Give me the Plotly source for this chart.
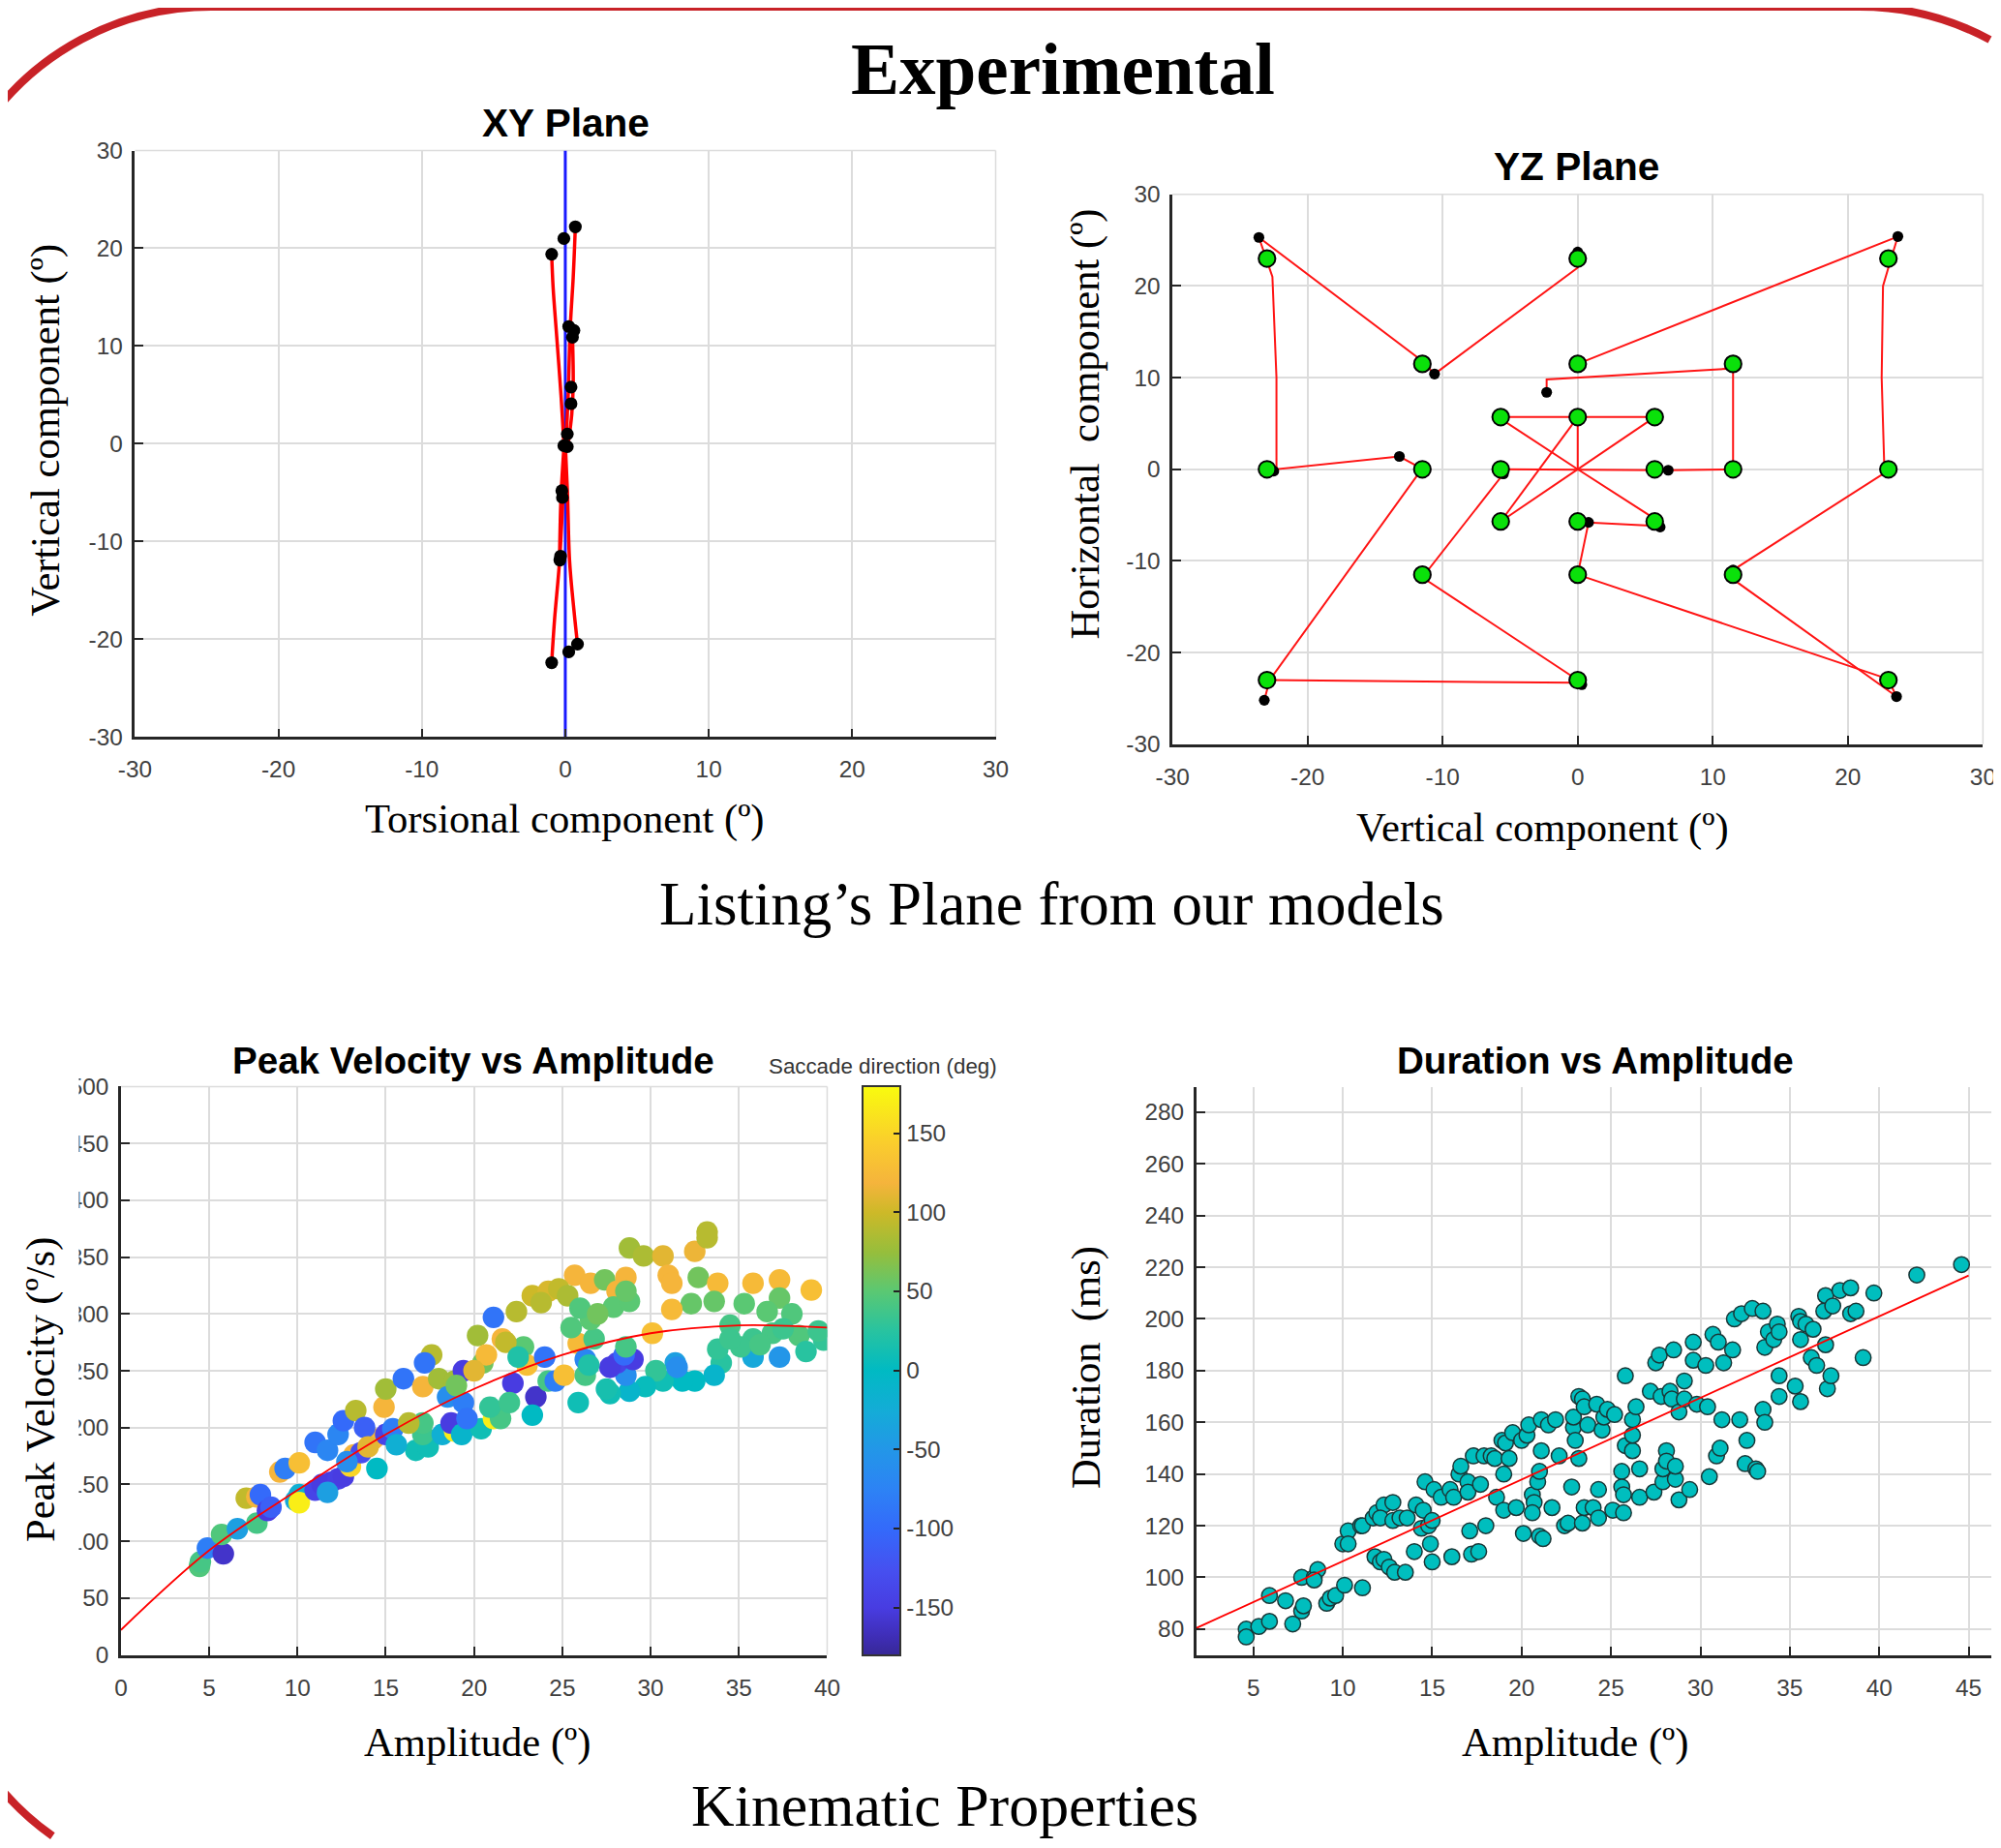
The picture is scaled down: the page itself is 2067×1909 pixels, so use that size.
import math
import plotly.graph_objects as go

W, H = 2067, 1909
# The photographed page shows the figure slightly scaled and offset; positions below are given in
# final picture pixels and converted back to figure pixels.
S, OX, OY = 0.9855, 24.5, 23.0
def fx(t): return (t - OX) / S
def fy(t): return (t - OY) / S
def PX(t): return fx(t) / W
def PY(t): return 1 - fy(t) / H
def FS(s): return s / S

# ---------------- DATA ----------------
xy_ticks = [-30, -20, -10, 0, 10, 20, 30]

# XY plane: black data points (torsional, vertical)
xy_pts_x = [-0.95, -0.1, 0.7, 0.24, 0.6, 0.5, 0.4, 0.4, 0.14, -0.1, 0.14, -0.24, -0.2, -0.33, -0.38, -0.95, 0.24, 0.85]
xy_pts_y = [19.4, 21.0, 22.2, 12.0, 11.6, 10.9, 5.8, 4.1, 1.0, -0.2, -0.3, -4.8, -5.5, -11.5, -11.9, -22.4, -21.3, -20.5]
# XY plane: red model trajectories (segments separated by None)
xy_red_x = [-0.95, -0.85, -0.6, -0.3, -0.1, None,
            0.7, 0.55, 0.35, 0.2, 0.05, None,
            0.5, 0.55, 0.45, 0.2, None,
            -0.95, -0.75, -0.4, -0.15, 0.0, None,
            0.85, 0.6, 0.3, 0.15, 0.0, None,
            -0.1, -0.3, -0.4]
xy_red_y = [19.4, 16, 11, 5, 0, None,
            22.2, 17, 12, 5, 0, None,
            11, 6, 3, 0, None,
            -22.4, -18, -12, -5, 0, None,
            -20.5, -17, -12, -5, 0, None,
            -0.5, -5.5, -11.8]
xy_line_x = [0, 0]
xy_line_y = [-30, 30]

# YZ plane: targets (green)
yz_green_x = [-23, 0, 23, -11.5, 0, 11.5, -5.7, 0, 5.7, -23, -11.5, -5.7, 5.7, 11.5, 23,
              -5.7, 0, 5.7, -11.5, 0, 11.5, -23, 0, 23]
yz_green_y = [23, 23, 23, 11.5, 11.5, 11.5, 5.7, 5.7, 5.7, 0, 0, 0, 0, 0, 0,
              -5.7, -5.7, -5.7, -11.5, -11.5, -11.5, -23, -23, -23]
# YZ plane: end points (black)
yz_black_x = [-23.6, 0, 23.7, -10.6, -2.3, -13.2, -22.5, 6.7, -5.5, 0.8, 6.1, -23.2, 0.3, 23.6, -11.6, 11.5, 22.8]
yz_black_y = [25.3, 23.7, 25.4, 10.4, 8.4, 1.4, -0.2, -0.1, -0.5, -5.8, -6.3, -25.2, -23.5, -24.8, -11.2, -11.0, -0.2]
# YZ plane: red trajectories
yz_red_x = [-23.6, -23.2, -22.6, -22.3, -22.3, -13.2, -11.7, None,
            -23.6, -11.5, -10.6, 0, 0, None,
            -11.7, -22.8, -23.2, None,
            -22.8, 0, 0.3, None,
            0, -11.5, -5.5, -5.7, None,
            -5.7, 6.7, 11.5, 11.5, -2.3, -2.3, None,
            0, 23.7, 23.2, 22.6, 22.5, 22.7, 22.6, 11.5, 11.5, 23.6, 23.0, None,
            0, 22.8, None,
            0, 0.8, 6.1, 5.7, None,
            -5.7, 0, 5.7, None,
            5.7, 0, -5.7, None,
            0, -5.7, None,
            0, 0, None,
            -5.7, 5.7]
yz_red_y = [25.3, 23.5, 21, 10, 0, 1.4, 0.2, None,
            25.3, 11.8, 10.4, 22, 23.7, None,
            -0.3, -23, -25.2, None,
            -23, -23.3, -23.5, None,
            -23, -11.8, -0.5, 0, None,
            0, -0.1, 0, 11, 9.8, 8.4, None,
            11.5, 25.4, 23, 20, 10, 0, -0.5, -11, -12, -24.8, -23, None,
            -11.5, -22.8, None,
            -11.5, -5.8, -6.2, -5.7, None,
            5.5, 0, -5.4, None,
            5.7, 0, -5.7, None,
            5.7, -5.7, None,
            5.7, 0, None,
            5.7, 5.7]

# Peak velocity vs amplitude
pv_xticks = [0, 5, 10, 15, 20, 25, 30, 35, 40]
pv_yticks = [0, 50, 100, 150, 200, 250, 300, 350, 400, 450, 500]
cb_ticks = [-150, -100, -50, 0, 50, 100, 150]
pv_amp = [4.45, 4.5, 4.9, 5.8, 5.7, 6.6, 7.7, 7.1, 7.7, 7.9, 8.3, 8.5, 9.0, 9.3, 10.1, 9.9, 10.1, 10.1,
          11.0, 11.4, 11.9, 12.3, 12.6, 11.7, 11.0, 11.7, 12.3, 12.6, 13.3, 13.0, 13.2, 13.6, 14.5, 14.3,
          14.9, 15.0, 15.0, 15.4, 16.0, 17.1, 17.6, 17.2, 18.0, 18.9, 18.5, 19.4, 19.4, 20.2, 20.5, 21.1,
          21.6, 20.7, 22.2, 22.8, 23.0, 23.5, 24.2, 24.6, 25.1, 25.9, 26.3, 26.3, 25.9, 22.4, 23.3, 24.2,
          25.7, 26.6, 27.4, 28.1, 28.6, 28.8, 29.6, 30.7, 31.0, 31.2, 32.5, 33.2, 33.2, 32.7, 33.8, 35.8,
          37.3, 39.1, 37.3, 33.6, 32.3, 31.2, 30.1, 35.3, 36.6, 34.5, 35.8, 36.9, 38.4, 39.8, 38.8, 37.3,
          35.8, 34.0, 33.8, 35.1, 33.6, 32.5, 31.8, 31.4, 30.7, 30.3, 29.7, 28.8, 28.6, 27.7, 27.5, 28.1,
          29.0, 27.7, 28.5, 28.6, 26.8, 25.5, 26.6, 27.9, 28.8, 28.6,
          16.7, 17.4, 17.1, 17.1, 18.2, 18.9, 18.7, 19.3, 20.4, 21.1, 21.5, 19.6, 20.9, 22.0, 23.3, 15.6, 16.3,
          23.8, 24.8, 25.3, 26.0, 27.0, 21.8, 22.5, 20.0, 19.0, 13.8, 14.0, 12.8, 24.0, 26.5, 31.5, 34.5,
          36.2, 38.0, 37.5, 39.5]
pv_vel = [78, 82, 94, 89, 106, 111, 116, 138, 139, 141, 127, 130, 161, 164, 169, 136, 141, 134,
          145, 150, 152, 155, 157, 143, 187, 180, 194, 206, 215, 166, 176, 178, 164, 190,
          218, 234, 194, 199, 243, 236, 264, 257, 243, 241, 227, 222, 250, 281, 257, 297,
          278, 264, 239, 271, 255, 227, 241, 241, 246, 274, 246, 260, 222, 302, 316, 320,
          334, 327, 330, 320, 332, 358, 351, 351, 334, 327, 355, 372, 367, 332, 327, 327,
          330, 321, 314, 311, 309, 304, 283, 309, 302, 290, 278, 283, 281, 277, 267, 262,
          262, 257, 269, 271, 246, 241, 241, 257, 241, 250, 236, 232, 246, 230, 234, 257,
          260, 253, 264, 271, 278, 288, 295, 306, 311, 320,
          180, 183, 194, 204, 194, 197, 204, 194, 199, 208, 208, 208, 218, 222, 211, 185, 204,
          310, 322, 316, 305, 300, 275, 262, 250, 237, 200, 183, 170, 262, 255, 253, 278,
          273, 300, 287, 285]
pv_dir = [45, 40, -80, -160, 45, -40, 40, 95, 120, -100, -150, -110, 120, -80, 130, -30, -20, 170,
          -140, -150, -150, -145, -150, -40, -90, -70, -70, -100, 90, 150, 120, -130, 0, 120,
          120, 80, -140, -80, -90, 120, 90, -90, 80, 80, -60, -80, -150, 80, 60, -90,
          120, 125, -150, 50, 130, -160, 40, -80, 130, 125, 40, -70, 10, 90, 100, 105,
          120, 120, 60, 120, 120, 80, 85, 110, 120, 120, 115, 90, 90, 60, 125, 125,
          125, 130, 55, 55, 55, 125, 130, 50, 50, 40, 35, 40, 45, 30, 25, -50,
          -30, 25, 30, 35, -10, 0, 0, -40, 10, 30, 5, -10, -60, 10, 15, -140,
          -150, -150, -100, 40, 40, 45, 50, 50, 50, 55,
          10, 10, 35, 40, -20, 170, -150, -10, 10, 170, 40, -90, 30, 35, 0, -20, 90,
          90, 95, 85, 45, 60, 95, 20, 110, 60, -110, 110, -60, -90, 20, -60, 35,
          40, 45, 35, 35]
pv_fit_x = [0, 5, 10, 15, 20, 25, 30, 35, 40]
pv_fit_y = [22, 92, 145, 194, 234, 264, 283, 290, 288]

# Duration vs amplitude
dur_xticks = [5, 10, 15, 20, 25, 30, 35, 40, 45]
dur_yticks = [80, 100, 120, 140, 160, 180, 200, 220, 240, 260, 280]
dur_amp = [4.6, 4.6, 5.3, 5.9, 5.9, 6.8, 7.2, 7.7, 7.8, 7.7, 8.4, 8.6, 8.4, 9.1, 9.3, 9.6, 10.1, 11.1,
           10.0, 10.3, 10.3, 11.0, 11.1, 11.7, 11.9, 12.3, 12.8, 12.1, 12.8, 13.2, 13.6, 11.8, 12.1, 12.3,
           12.6, 12.9, 13.5, 14.0, 14.1, 14.5, 14.4, 14.8, 15.0, 14.6, 14.9, 15.0, 15.1, 15.5, 16.0, 16.2,
           16.1, 16.5, 16.6, 17.0, 17.0, 17.1, 17.3, 17.2, 17.6, 17.7, 18.0, 17.9, 18.3, 18.5, 18.6, 18.9,
           19.1, 19.0, 19.0, 19.3, 19.5, 19.7, 20.0, 20.3, 20.1, 20.4, 20.6, 20.7, 20.6, 20.9, 21.0, 21.1,
           21.1, 21.0, 21.2, 21.5, 21.7, 21.9, 22.1, 22.4, 22.6, 22.8, 22.9, 22.9, 23.0, 23.2, 23.4, 23.2,
           23.4, 23.5, 23.5, 23.7, 24.0, 24.2, 24.3, 24.3, 24.5, 24.6, 24.8, 25.2, 25.1, 25.7, 25.6, 25.6,
           25.7, 25.8, 25.8, 26.2, 26.2, 26.2, 26.4, 26.6, 26.6, 27.2, 27.4, 27.5, 27.7, 27.8, 27.9, 27.9,
           28.1, 28.1, 28.3, 28.4, 28.5, 28.6, 28.6, 28.8, 28.8, 29.1, 29.1, 29.4, 29.6, 29.6, 29.8, 30.3,
           30.4, 30.5, 30.7, 30.9, 31.0, 31.1, 31.2, 31.3, 31.8, 31.9, 32.2, 32.3, 32.5, 32.6, 32.9, 33.1,
           33.2, 33.5, 33.5, 33.6, 33.6, 33.8, 34.1, 34.3, 34.4, 34.4, 34.4, 35.3, 35.5, 35.6, 35.6, 35.6,
           35.9, 36.2, 36.3, 36.5, 36.9, 37.0, 37.0, 37.1, 37.3, 37.4, 37.8, 38.4, 38.4, 38.7, 39.1, 39.7,
           42.1, 44.6]
dur_ms = [80, 77, 81, 93, 83, 91, 82, 87, 89, 100, 100, 103, 99, 90, 92, 93, 97, 96,
          113, 118, 113, 120, 120, 123, 125, 128, 129, 123, 122, 123, 123, 108, 106, 107,
          104, 102, 102, 110, 128, 126, 119, 120, 122, 137, 113, 106, 134, 131, 134, 131,
          108, 140, 143, 137, 133, 118, 147, 109, 110, 136, 120, 147, 147, 146, 131, 153,
          152, 140, 126, 146, 156, 127, 153, 155, 117, 159, 132, 129, 125, 137, 141, 149,
          161, 116, 115, 159, 127, 161, 147, 120, 121, 135, 158, 162, 153, 146, 121, 170,
          169, 127, 166, 159, 127, 167, 134, 123, 157, 162, 165, 163, 126, 125, 141, 135,
          132, 151, 178, 161, 149, 155, 166, 142, 131, 172, 133, 183, 186, 170, 137, 142,
          149, 145, 172, 169, 188, 138, 143, 130, 164, 176, 169, 134, 191, 184, 167, 182,
          166, 139, 194, 147, 191, 150, 161, 183, 188, 200, 161, 202, 144, 153, 204, 142,
          141, 203, 165, 189, 160, 195, 192, 198, 195, 178, 170, 174, 201, 199, 192, 168,
          198, 185, 196, 182, 203, 209, 190, 173, 178, 205, 211, 212, 202, 203, 185, 210,
          217, 221]
dur_fit_x = [1.8, 45]
dur_fit_y = [80.4, 216.8]

# ---------------- FIGURE ----------------
parula = [[0.0, 'rgb(55,40,150)'], [0.03, 'rgb(62,45,180)'], [0.083, 'rgb(72,60,225)'],
          [0.15, 'rgb(70,80,240)'], [0.22, 'rgb(52,105,250)'], [0.29, 'rgb(45,130,245)'],
          [0.36, 'rgb(35,150,232)'], [0.43, 'rgb(20,172,215)'], [0.5, 'rgb(0,186,195)'],
          [0.57, 'rgb(40,195,160)'], [0.639, 'rgb(90,200,115)'], [0.708, 'rgb(150,190,60)'],
          [0.778, 'rgb(205,185,40)'], [0.83, 'rgb(245,180,60)'], [0.9, 'rgb(250,205,45)'],
          [1.0, 'rgb(249,251,14)']]

fig = go.Figure()

# XY plane
fig.add_trace(go.Scatter(x=xy_line_x, y=xy_line_y, mode='lines', line=dict(color='rgb(25,25,255)', width=3),
                         xaxis='x', yaxis='y', hoverinfo='skip'))
fig.add_trace(go.Scatter(x=xy_red_x, y=xy_red_y, mode='lines', line=dict(color='rgb(255,0,0)', width=3.5, shape='spline'),
                         connectgaps=False, xaxis='x', yaxis='y'))
fig.add_trace(go.Scatter(x=xy_pts_x, y=xy_pts_y, mode='markers', marker=dict(color='black', size=FS(13)),
                         xaxis='x', yaxis='y'))

# YZ plane
fig.add_trace(go.Scatter(x=yz_red_x, y=yz_red_y, mode='lines', line=dict(color='rgb(255,20,20)', width=2),
                         connectgaps=False, xaxis='x2', yaxis='y2'))
fig.add_trace(go.Scatter(x=yz_black_x, y=yz_black_y, mode='markers', marker=dict(color='black', size=FS(11)),
                         xaxis='x2', yaxis='y2'))
fig.add_trace(go.Scatter(x=yz_green_x, y=yz_green_y, mode='markers',
                         marker=dict(color='rgb(10,225,10)', size=FS(17), line=dict(color='black', width=2)),
                         xaxis='x2', yaxis='y2'))

# Peak velocity
fig.add_trace(go.Scatter(x=pv_amp, y=pv_vel, mode='markers', xaxis='x3', yaxis='y3',
                         marker=dict(size=FS(22), color=pv_dir, colorscale=parula, cmin=-180, cmax=180,
                                     showscale=True,
                                     colorbar=dict(x=PX(890.6), xanchor='left', thickness=FS(38), thicknessmode='pixels',
                                                   len=(fy(1711) - fy(1123)) / H, lenmode='fraction', y=PY(1417), yanchor='middle',
                                                   xpad=0, ypad=0, outlinewidth=2, outlinecolor='#333333',
                                                   ticks='inside', ticklen=8, tickwidth=2, tickcolor='#222222',
                                                   tickvals=cb_ticks, ticktext=[str(v) for v in cb_ticks],
                                                   tickfont=dict(family='Liberation Sans, Arial', size=FS(24), color='#404040')))))
fig.add_trace(go.Scatter(x=pv_fit_x, y=pv_fit_y, mode='lines', line=dict(color='rgb(255,0,0)', width=1.8, shape='spline'),
                         xaxis='x3', yaxis='y3'))

# Duration
fig.add_trace(go.Scatter(x=dur_amp, y=dur_ms, mode='markers', xaxis='x4', yaxis='y4',
                         marker=dict(size=FS(16), color='rgb(0,190,190)', line=dict(color='rgb(25,55,55)', width=1.5))))
fig.add_trace(go.Scatter(x=dur_fit_x, y=dur_fit_y, mode='lines', line=dict(color='rgb(255,0,0)', width=1.8),
                         xaxis='x4', yaxis='y4'))

tickfont = dict(family='Liberation Sans, Arial, sans-serif', size=FS(24), color='#404040')

def axis(domain, rng, tickvals, anchor, standoff):
    return dict(domain=domain, range=rng, tickvals=tickvals, ticktext=[str(v) for v in tickvals],
                anchor=anchor, showline=True, linecolor='#262626', linewidth=2.5,
                ticks='inside', ticklen=9, tickwidth=2, tickcolor='#262626',
                showgrid=True, gridcolor='#dcdcdc', gridwidth=1.5, zeroline=False,
                tickfont=tickfont, ticklabelstandoff=standoff, fixedrange=True)

XY_X = [PX(138), PX(1028)]
XY_Y = [PY(763), PY(157.5)]
YZ_X = [PX(1210.8), PX(2048.9)]
YZ_Y = [PY(770.5), PY(202.7)]
PV_X = [PX(123.5), PX(853.8)]
PV_Y = [PY(1711), PY(1124)]
DU_X = [PX(1235.5), PX(2058)]
DU_Y = [PY(1711), PY(1125)]
du_xmax = 1.81 + (2058 - 1235.5) / 18.49

layout = dict(
    width=W, height=H, autosize=False, margin=dict(l=0, r=0, t=0, b=0, pad=0),
    paper_bgcolor='white', plot_bgcolor='white', showlegend=False,
    xaxis=axis(XY_X, [-30, 30], xy_ticks, 'y', 10),
    yaxis=axis(XY_Y, [-30, 30], xy_ticks, 'x', 5),
    xaxis2=axis(YZ_X, [-30, 30], xy_ticks, 'y2', 10),
    yaxis2=axis(YZ_Y, [-30, 30], xy_ticks, 'x2', 5),
    xaxis3=axis(PV_X, [0, 40], pv_xticks, 'y3', 10),
    yaxis3=axis(PV_Y, [0, 500], pv_yticks, 'x3', 5),
    xaxis4=axis(DU_X, [1.81, du_xmax], dur_xticks, 'y4', 10),
    yaxis4=axis(DU_Y, [70, 289.5], dur_yticks, 'x4', 5),
)
fig.update_layout(**layout)

# edge grid lines (top and right frame in grid colour)
shapes = []
for (xd, yd) in [(XY_X, XY_Y), (YZ_X, YZ_Y), (PV_X, PV_Y)]:
    shapes.append(dict(type='line', xref='paper', yref='paper', x0=xd[0], x1=xd[1], y0=yd[1], y1=yd[1],
                       line=dict(color='#dcdcdc', width=1.5), layer='below'))
    shapes.append(dict(type='line', xref='paper', yref='paper', x0=xd[1], x1=xd[1], y0=yd[0], y1=yd[1],
                       line=dict(color='#dcdcdc', width=1.5), layer='below'))

# mask that crops the left part of the velocity tick labels (as in the original image)
shapes.append(dict(type='rect', xref='paper', yref='paper', x0=PX(-30), x1=PX(80), y0=PY(1735), y1=PY(1095),
                   fillcolor='white', line=dict(width=0), layer='above'))

# red rounded frame (final-picture pixel geometry)
def arc(cx, cy, r, t0, t1):
    k = 4.0 / 3.0 * math.tan((t1 - t0) / 4.0)
    p0 = (cx + r * math.cos(t0), cy + r * math.sin(t0))
    p3 = (cx + r * math.cos(t1), cy + r * math.sin(t1))
    p1 = (p0[0] - k * r * math.sin(t0), p0[1] + k * r * math.cos(t0))
    p2 = (p3[0] + k * r * math.sin(t1), p3[1] - k * r * math.cos(t1))
    return p0, p1, p2, p3

def fmt(p):
    return '%.5f,%.5f' % (PX(p[0]), PY(p[1]))

RAD, TOP = 285, 9.0
cxl, cxr, cyt, cyb = 217, 1921, TOP + RAD, 1665
xl = -20
t0 = math.atan2(-math.sqrt(RAD ** 2 - (cxl - xl) ** 2), xl - cxl)
a1 = arc(cxl, cyt, RAD, t0, -math.pi / 2)
xr = 2056
t1 = math.atan2(-math.sqrt(RAD ** 2 - (xr - cxr) ** 2), xr - cxr)
a2 = arc(cxr, cyt, RAD, -math.pi / 2, t1)
t2 = math.atan2(math.sqrt(RAD ** 2 - (cxl - xl) ** 2), xl - cxl)
yb = 1898
t3 = math.atan2(yb - cyb, -math.sqrt(RAD ** 2 - (yb - cyb) ** 2))
a3 = arc(cxl, cyb, RAD, t2, t3)
path = ('M ' + fmt(a1[0]) + ' C ' + ' '.join(fmt(p) for p in a1[1:]) +
        ' L ' + fmt(a2[0]) + ' C ' + ' '.join(fmt(p) for p in a2[1:]) +
        ' M ' + fmt(a3[0]) + ' C ' + ' '.join(fmt(p) for p in a3[1:]))
shapes.append(dict(type='path', xref='paper', yref='paper', path=path,
                   line=dict(color='rgb(200,34,39)', width=FS(8)), layer='above'))
fig.update_layout(shapes=shapes)

serif = 'Liberation Serif, Times New Roman, serif'
sans = 'Liberation Sans, Arial, sans-serif'

def ann(text, x, y, size, family, color='black', angle=0, bold=False, yanchor='middle'):
    if bold:
        text = '<b>' + text + '</b>'
    return dict(text=text, x=PX(x), y=PY(y), xref='paper', yref='paper', xanchor='center', yanchor=yanchor,
                showarrow=False, textangle=angle, font=dict(family=family, size=FS(size), color=color))

annotations = [
    ann('Experimental', 1098, 73, 74, serif, bold=True),
    ann('Listing’s Plane from our models', 1086, 936, 62, serif),
    ann('Kinematic Properties', 975, 1866, 61, serif),
    ann('XY Plane', 584, 129, 40, sans, bold=True),
    ann('YZ Plane', 1629, 174, 40, sans, bold=True),
    ann('Peak Velocity vs Amplitude', 488, 1097, 38, sans, bold=True),
    ann('Duration vs Amplitude', 1648, 1097, 38, sans, bold=True),
    ann('Saccade direction (deg)', 911, 1103, 22, sans, color='#333333'),
    ann('Vertical component (º)', 46, 446, 42, serif, angle=-90),
    ann('Torsional component (º)', 583, 848, 42, serif),
    ann('Horizontal\u00a0 component (º)', 1121, 440, 42, serif, angle=-90),
    ann('Vertical component (º)', 1594, 857, 42, serif),
    ann('Peak Velocity (º/s)', 40, 1437, 42, serif, angle=-90),
    ann('Amplitude (º)', 492, 1801, 42, serif),
    ann('Duration\u00a0 (ms)', 1121, 1414, 42, serif, angle=-90),
    ann('Amplitude (º)', 1628, 1801, 42, serif),
]
fig.update_layout(annotations=annotations)

fig.write_html('out.html')
